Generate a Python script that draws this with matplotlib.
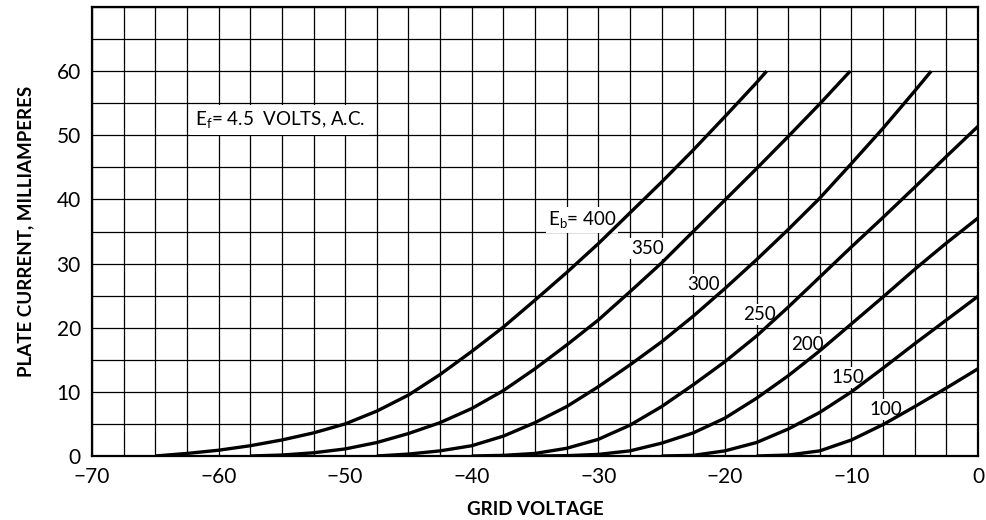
import numpy as np
import matplotlib
matplotlib.use("Agg")
import matplotlib.pyplot as plt

plt.rcParams['font.family'] = ['Lato', 'DejaVu Sans']

# grid voltage (V) vs plate current (mA), one curve per plate voltage
eb400_v = [-65, -62.5, -60, -57.5, -55, -52.5, -50, -47.5, -45, -42.5, -40, -37.5, -35,
           -32.5, -30, -27.5, -25, -22.5, -20, -17.5, -16.7]
eb400_i = [0.0, 0.4, 0.9, 1.6, 2.5, 3.6, 5.0, 7.0, 9.5, 12.7, 16.3, 20.1, 24.3,
           28.6, 33.1, 37.9, 42.7, 47.7, 52.9, 58.2, 60.0]

eb350_v = [-57.5, -55, -52.5, -50, -47.5, -45, -42.5, -40, -37.5, -35, -32.5, -30,
           -27.5, -25, -22.5, -20, -17.5, -15, -12.5, -10.1]
eb350_i = [0.0, 0.15, 0.5, 1.1, 2.1, 3.5, 5.2, 7.4, 10.2, 13.6, 17.3, 21.2,
           25.6, 30.1, 35.0, 39.9, 44.8, 49.8, 54.9, 60.0]

eb300_v = [-47.5, -45, -42.5, -40, -37.5, -35, -32.5, -30, -27.5, -25, -22.5, -20,
           -17.5, -15, -12.5, -10, -7.5, -5, -3.7]
eb300_i = [0.0, 0.3, 0.8, 1.6, 3.1, 5.2, 7.7, 10.8, 14.2, 17.8, 21.8, 26.1,
           30.6, 35.3, 40.2, 45.6, 51.1, 56.9, 60.0]

eb250_v = [-40, -37.5, -35, -32.5, -30, -27.5, -25, -22.5, -20, -17.5, -15, -12.5,
           -10, -7.5, -5, -2.5, 0]
eb250_i = [0.0, 0.1, 0.4, 1.2, 2.6, 4.8, 7.7, 11.1, 14.7, 18.7, 23.2, 27.9,
           32.6, 37.2, 41.9, 46.7, 51.4]

eb200_v = [-35, -32.5, -30, -27.5, -25, -22.5, -20, -17.5, -15, -12.5, -10, -7.5, -5, -2.5, 0]
eb200_i = [0.0, 0.05, 0.25, 0.8, 2.0, 3.6, 5.9, 9.0, 12.5, 16.4, 20.6, 24.8, 29.1, 33.2, 37.1]

eb150_v = [-25, -22.5, -20, -17.5, -15, -12.5, -10, -7.5, -5, -2.5, 0]
eb150_i = [0.0, 0.1, 0.8, 2.1, 4.2, 6.8, 10.0, 13.7, 17.5, 21.2, 24.9]

eb100_v = [-17.5, -15, -12.5, -10, -7.5, -5, -2.5, 0]
eb100_i = [0.0, 0.15, 0.8, 2.5, 4.9, 7.7, 10.6, 13.6]

curves = [(eb400_v, eb400_i), (eb350_v, eb350_i), (eb300_v, eb300_i), (eb250_v, eb250_i),
          (eb200_v, eb200_i), (eb150_v, eb150_i), (eb100_v, eb100_i)]

# curve labels: text and where they sit
labels = [r"$\mathregular{E_b}$= 400", "350", "300", "250", "200", "150", "100"]
label_x = [-34.0, -26.1, -21.65, -17.3, -13.5, -10.3, -7.3]
label_y = [36.8, 32.4, 26.7, 22.0, 17.4, 12.3, 7.2]

x_ticks = [-70, -60, -50, -40, -30, -20, -10, 0]
y_ticks = [0, 10, 20, 30, 40, 50, 60]

fig = plt.figure(figsize=(9.86, 5.2), dpi=100)
ax = fig.add_axes([92 / 986, 64 / 520, 886 / 986, 449 / 520])

for v, i in curves:
    ax.plot(v, i, color='black', lw=2.4, zorder=3, solid_capstyle='butt',
            solid_joinstyle='round')

for k, txt in enumerate(labels):
    ha = 'left' if k == 0 else 'center'
    ax.text(label_x[k], label_y[k], txt, fontsize=13.5, ha=ha, va='center', zorder=2.5,
            bbox=dict(facecolor='white', edgecolor='none', pad=1.5))

ax.text(-61.9, 52.4, r"$\mathregular{E_f}$= 4.5  VOLTS, A.C.", fontsize=13.5,
        ha='left', va='center', zorder=2.5,
        bbox=dict(facecolor='white', edgecolor='none', pad=3))

ax.set_xlim(-70, 0)
ax.set_ylim(0, 70)
ax.set_xticks(x_ticks)
ax.set_yticks(y_ticks)
ax.set_xticks(np.arange(-70, 0.1, 2.5), minor=True)
ax.set_yticks(np.arange(0, 70.1, 5), minor=True)
ax.set_axisbelow(True)
ax.grid(which='both', color='black', lw=0.9)
ax.tick_params(which='both', length=0)
ax.tick_params(axis='x', pad=8, labelsize=15)
ax.tick_params(axis='y', pad=8, labelsize=15)
for s in ax.spines.values():
    s.set_linewidth(1.6)

ax.set_xlabel("GRID VOLTAGE", fontsize=13.5, fontweight='bold', labelpad=10)
ax.set_ylabel("PLATE CURRENT, MILLIAMPERES", fontsize=13.5, fontweight='bold', labelpad=16)

fig.savefig("out.png", dpi=100)
